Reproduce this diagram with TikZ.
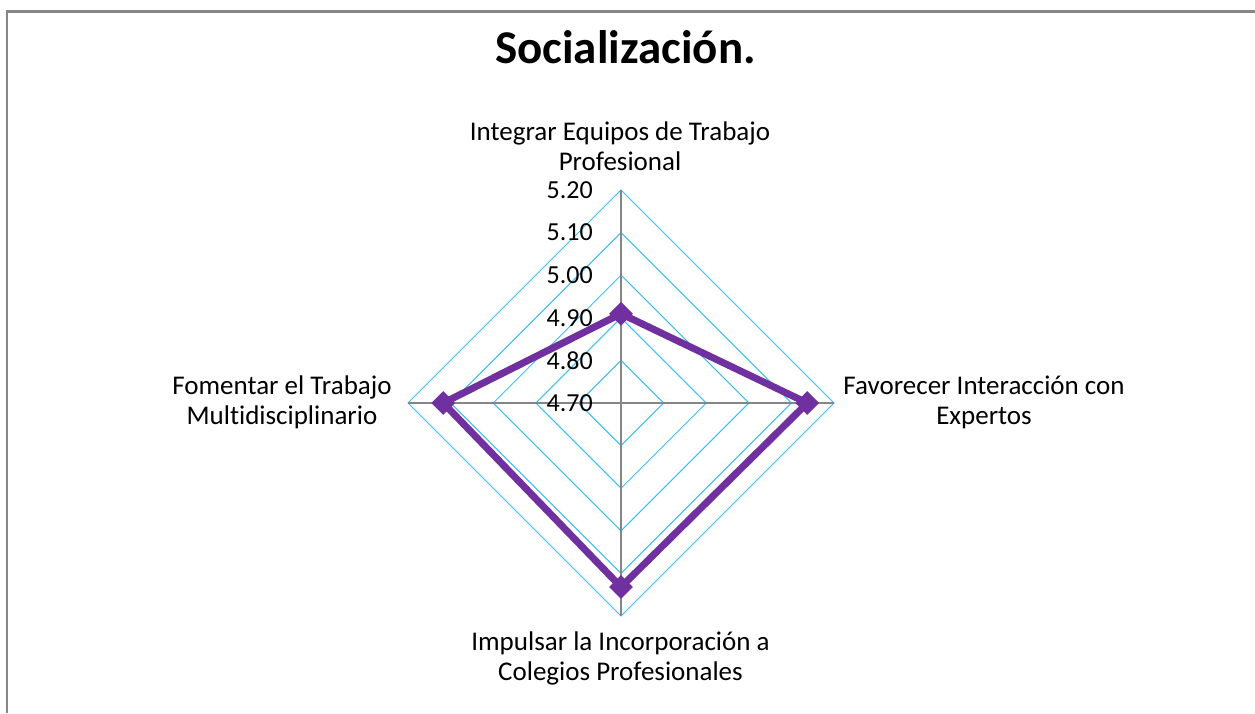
\documentclass[tikz,border=0pt]{standalone}
\usepackage{fontspec}
\setmainfont{Carlito}[Ligatures=NoCommon]
\usepackage{tikz}
\usetikzlibrary{positioning,shapes.geometric}
\definecolor{ringblue}{RGB}{60,190,240}
\definecolor{axisgray}{RGB}{134,134,134}
\definecolor{seriespurple}{RGB}{112,48,160}
\tikzstyle{ring} = [draw=ringblue, line width=1pt]
\tikzstyle{spoke} = [draw=axisgray, line width=1.5pt]
\tikzstyle{series} = [draw=seriespurple, line width=7pt, line join=miter]
\tikzstyle{marker} = [diamond, aspect=1, fill=seriespurple, minimum size=24pt, inner sep=0pt]
\tikzstyle{catlabel} = [font=\fontsize{27}{30}\selectfont, align=center, text=black]
\tikzstyle{ticklabel} = [font=\fontsize{26}{30}\selectfont, anchor=east, inner sep=0pt]

\begin{document}
\begin{tikzpicture}[x=1pt,y=-1pt]
			\useasboundingbox (0,0) rectangle (1255,713);
			% frame
			\draw [axisgray, line width=2.5pt] (7,713) -- (7,11.5) -- (1255,11.5);
			\node (title) at (625.5,47.5) {\fontsize{47}{54}\selectfont\bfseries Socialización.};
			
			% rings
			\draw [ring] (621,360.4) -- (663.6,403) -- (621,445.6) -- (578.4,403) -- cycle;
			\draw [ring] (621,317.8) -- (706.2,403) -- (621,488.2) -- (535.8,403) -- cycle;
			\draw [ring] (621,275.2) -- (748.8,403) -- (621,530.8) -- (493.2,403) -- cycle;
			\draw [ring] (621,232.6) -- (791.4,403) -- (621,573.4) -- (450.6,403) -- cycle;
			\draw [ring] (621,190) -- (834,403) -- (621,616) -- (408,403) -- cycle;
			
			% axes
			\coordinate (c) at (621,403);
			\coordinate (ptop) at (621,190);
			\coordinate (pright) at (834,403);
			\coordinate (pbot) at (621,616);
			\coordinate (pleft) at (408,403);
			\draw [spoke] (c) -- (ptop);
			\draw [spoke] (c) -- (pright);
			\draw [spoke] (c) -- (pbot);
			\draw [spoke] (c) -- (pleft);
			
			% scale
			\node (t470) [ticklabel] at (593,403) {4.70};
			\node (t480) [ticklabel] at (593,360.4) {4.80};
			\node (t490) [ticklabel] at (593,317.8) {4.90};
			\node (t500) [ticklabel] at (593,275.2) {5.00};
			\node (t510) [ticklabel] at (593,232.6) {5.10};
			\node (t520) [ticklabel] at (593,190) {5.20};
			
			% data
			\node (mtop) [marker] at (621,313.7) {};
			\node (mright) [marker] at (807.3,403) {};
			\node (mbot) [marker] at (621,587) {};
			\node (mleft) [marker] at (443.3,403) {};
			\draw [series] (mtop.center) -- (mright.center) -- (mbot.center) -- (mleft.center) -- cycle;
			
			% categories
			\node (equipos) [catlabel] at (620,146.5) {Integrar Equipos de Trabajo\\Profesional};
			\node (expertos) [catlabel] at (984,402) {Favorecer Interacción con\\Expertos};
			\node (colegios) [catlabel] at (620.5,658) {Impulsar la Incorporación a\\Colegios Profesionales};
			\node (multi) [catlabel] at (282,402) {Fomentar el Trabajo\\Multidisciplinario};
			\end{tikzpicture}
\end{document}
